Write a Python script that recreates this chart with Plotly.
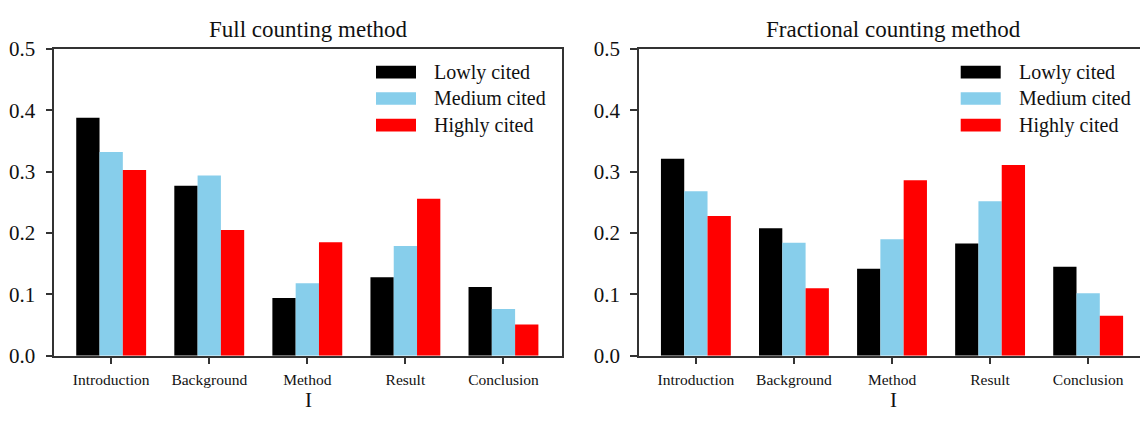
import plotly.graph_objects as go

# ---- data -------------------------------------------------------------
sections = ["Introduction", "Background", "Method", "Result", "Conclusion"]
groups = ["Lowly cited", "Medium cited", "Highly cited"]
colors = ["#000000", "#87CEEB", "#FF0000"]

full_lowly = [0.388, 0.277, 0.094, 0.128, 0.112]
full_medium = [0.332, 0.294, 0.118, 0.179, 0.076]
full_highly = [0.303, 0.205, 0.185, 0.256, 0.051]

frac_lowly = [0.321, 0.208, 0.142, 0.183, 0.145]
frac_medium = [0.268, 0.184, 0.190, 0.252, 0.102]
frac_highly = [0.228, 0.110, 0.286, 0.311, 0.065]

panel_titles = ["Full counting method", "Fractional counting method"]
x_title = "I"
y_ticks = [0.0, 0.1, 0.2, 0.3, 0.4, 0.5]

# ---- layout geometry (pixels) ----------------------------------------
W, H = 1140, 421
FONT = "Liberation Serif, Times New Roman, serif"
AX = "#333333"
TXT = "#111111"

def px(x):
    return x / W

def py(y):
    return 1 - y / H

plot_top, plot_bottom = 39.3, 364.5
left_l, left_r = 54.3, 562.3
right_l = 639.0
unit = (left_r - left_l) / 5.18          # pixels per category step
x0 = -0.58
right_range_end = x0 + (W - right_l) / unit

fig = go.Figure()

panels = [
    ("x", "y", [full_lowly, full_medium, full_highly]),
    ("x2", "y2", [frac_lowly, frac_medium, frac_highly]),
]
for xa, ya, series in panels:
    for name, vals, col in zip(groups, series, colors):
        fig.add_trace(go.Bar(
            x=sections, y=vals, name=name, xaxis=xa, yaxis=ya,
            marker=dict(color=col, line=dict(width=0)),
            showlegend=False,
        ))

axis_font = dict(family=FONT, size=21, color=TXT)
cat_font = dict(family=FONT, size=15.5, color=TXT)

common_x = dict(
    type="category", showline=True, linecolor=AX, linewidth=1.5,
    mirror=True, ticks="outside", ticklen=7, tickwidth=1.5, tickcolor=AX,
    showgrid=False, zeroline=False, tickfont=cat_font, fixedrange=True,
    ticklabelstandoff=2,
)
common_y = dict(
    range=[0, 0.5], tickvals=y_ticks, tickformat=".1f",
    showline=True, linecolor=AX, linewidth=1.5,
    ticks="outside", ticklen=7, tickwidth=1.5, tickcolor=AX,
    showgrid=False, zeroline=False, tickfont=axis_font,
    ticklabelstandoff=6, fixedrange=True,
)
ydom = [py(plot_bottom), py(plot_top)]

fig.update_layout(
    width=W, height=H, autosize=False,
    margin=dict(l=0, r=0, t=0, b=0, pad=0),
    paper_bgcolor="white", plot_bgcolor="white",
    barmode="group", bargap=0.2875, bargroupgap=0,
    showlegend=False,
    font=dict(family=FONT, color=TXT),
    xaxis=dict(common_x, domain=[px(left_l), px(left_r)], range=[x0, 4.6], anchor="y"),
    yaxis=dict(common_y, domain=ydom, anchor="x", mirror=True),
    xaxis2=dict(common_x, domain=[px(right_l), 1.0], range=[x0, right_range_end], anchor="y2"),
    yaxis2=dict(common_y, domain=ydom, anchor="x2", mirror=False),
)

# panel titles and axis titles
annotations = []
centers = [(left_l + left_r) / 2, right_l + (left_r - left_l) / 2]
for cx, title in zip(centers, panel_titles):
    annotations.append(dict(
        text=title, x=px(cx), y=py(19), xref="paper", yref="paper",
        xanchor="center", yanchor="middle", showarrow=False,
        font=dict(family=FONT, size=23, color=TXT),
    ))
    annotations.append(dict(
        text=x_title, x=px(cx), y=py(411), xref="paper", yref="paper",
        xanchor="center", yanchor="middle", showarrow=False,
        font=dict(family=FONT, size=21, color=TXT),
    ))

# legend swatches and labels, one block per panel
shapes = []
row_centers = [63.7, 91.7, 120.0]
for right_edge in [left_r, right_l + (left_r - left_l)]:
    sw_l = right_edge - 186.3
    sw_r = sw_l + 40
    tx = sw_l + 56.5
    for name, col, yc in zip(groups, colors, row_centers):
        shapes.append(dict(
            type="rect", xref="paper", yref="paper",
            x0=px(sw_l), x1=px(min(sw_r, W)), y0=py(yc + 6.7), y1=py(yc - 6.7),
            fillcolor=col, line=dict(width=0),
        ))
        annotations.append(dict(
            text=name, x=px(tx), y=py(yc), xref="paper", yref="paper",
            xanchor="left", yanchor="middle", showarrow=False,
            font=dict(family=FONT, size=20, color=TXT),
        ))

fig.update_layout(annotations=annotations, shapes=shapes)

fig.write_html("out.html")
